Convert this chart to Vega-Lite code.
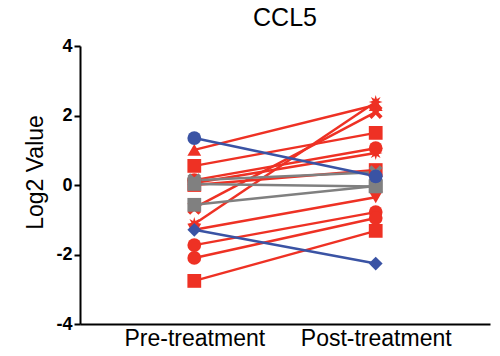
{
  "$schema": "https://vega.github.io/schema/vega-lite/v6.json",
  "width": 410,
  "height": 278,
  "autosize": {"type": "none"},
  "padding": {"left": 80, "top": 46, "right": 10, "bottom": 32},
  "background": "white",
  "title": {"text": "CCL5", "fontSize": 25, "fontWeight": "normal", "font": "Liberation Sans", "color": "black", "anchor": "middle", "offset": 6},
  "config": {"view": {"stroke": null}, "font": "Liberation Sans"},
  "data": {"values": [
    {"subject": "R1", "group": "red", "time": "Pre-treatment", "value": 1.01},
    {"subject": "R1", "group": "red", "time": "Post-treatment", "value": 2.3},
    {"subject": "R2", "group": "red", "time": "Pre-treatment", "value": 0.55},
    {"subject": "R2", "group": "red", "time": "Post-treatment", "value": 1.5},
    {"subject": "R3", "group": "red", "time": "Pre-treatment", "value": -0.66},
    {"subject": "R3", "group": "red", "time": "Post-treatment", "value": 2.1},
    {"subject": "R4", "group": "red", "time": "Pre-treatment", "value": -1.12},
    {"subject": "R4", "group": "red", "time": "Post-treatment", "value": 2.39},
    {"subject": "R5", "group": "red", "time": "Pre-treatment", "value": 0.14},
    {"subject": "R5", "group": "red", "time": "Post-treatment", "value": 1.06},
    {"subject": "R6", "group": "red", "time": "Pre-treatment", "value": 0.06},
    {"subject": "R6", "group": "red", "time": "Post-treatment", "value": 0.92},
    {"subject": "R7", "group": "red", "time": "Pre-treatment", "value": 0.0},
    {"subject": "R7", "group": "red", "time": "Post-treatment", "value": 0.43},
    {"subject": "R8", "group": "red", "time": "Pre-treatment", "value": -1.29},
    {"subject": "R8", "group": "red", "time": "Post-treatment", "value": -0.35},
    {"subject": "R9", "group": "red", "time": "Pre-treatment", "value": -1.73},
    {"subject": "R9", "group": "red", "time": "Post-treatment", "value": -0.78},
    {"subject": "R10", "group": "red", "time": "Pre-treatment", "value": -2.1},
    {"subject": "R10", "group": "red", "time": "Post-treatment", "value": -0.95},
    {"subject": "R11", "group": "red", "time": "Pre-treatment", "value": -2.76},
    {"subject": "R11", "group": "red", "time": "Post-treatment", "value": -1.32},
    {"subject": "G1", "group": "gray", "time": "Pre-treatment", "value": 0.14},
    {"subject": "G1", "group": "gray", "time": "Post-treatment", "value": 0.37},
    {"subject": "G2", "group": "gray", "time": "Pre-treatment", "value": 0.03},
    {"subject": "G2", "group": "gray", "time": "Post-treatment", "value": -0.04},
    {"subject": "G3", "group": "gray", "time": "Pre-treatment", "value": -0.57},
    {"subject": "G3", "group": "gray", "time": "Post-treatment", "value": -0.03},
    {"subject": "B1", "group": "blue", "time": "Pre-treatment", "value": 1.35},
    {"subject": "B1", "group": "blue", "time": "Post-treatment", "value": 0.25},
    {"subject": "B2", "group": "blue", "time": "Pre-treatment", "value": -1.29},
    {"subject": "B2", "group": "blue", "time": "Post-treatment", "value": -2.26}
  ]},
  "encoding": {
    "x": {
      "field": "time", "type": "nominal", "sort": ["Pre-treatment", "Post-treatment"],
      "scale": {"type": "point", "padding": 0.63, "align": 0.5},
      "axis": {"title": null, "ticks": false, "labelAngle": 0, "labelFontSize": 23, "labelColor": "black", "labelPadding": 3, "domainColor": "black", "domainWidth": 2}
    },
    "y": {
      "field": "value", "type": "quantitative",
      "scale": {"domain": [-4, 4], "nice": false, "zero": false},
      "axis": {"title": "Log2 Value", "titleFontSize": 23, "titleFontWeight": "normal", "titleColor": "black", "titlePadding": 8, "titleY": 126, "values": [-4, -2, 0, 2, 4], "labelExpr": "datum.value < 0 ? '-' + abs(datum.value) : '' + datum.value", "grid": false, "labelFontSize": 18, "labelFontWeight": "bold", "labelColor": "black", "domainColor": "black", "domainWidth": 2, "tickColor": "black", "tickWidth": 2, "tickSize": 6, "labelPadding": 2}
    },
    "color": {
      "field": "group", "type": "nominal", "legend": null,
      "scale": {"domain": ["red", "gray", "blue"], "range": ["#ee3124", "#808080", "#3a53a4"]}
    }
  },
  "layer": [
    {"mark": {"type": "line", "strokeWidth": 2.5}, "encoding": {"detail": {"field": "subject"}}},
    {
      "mark": {"type": "point", "filled": true, "opacity": 1, "size": 190},
      "encoding": {
        "shape": {
          "field": "subject", "type": "nominal", "legend": null,
          "scale": {
            "domain": ["R1", "R2", "R3", "R4", "R5", "R6", "R7", "R8", "R9", "R10", "R11", "G1", "G2", "G3", "B1", "B2"],
            "range": [
              "triangle-up", "square",
              "M-1,-0.6L-0.6,-1L0,-0.4L0.6,-1L1,-0.6L0.4,0L1,0.6L0.6,1L0,0.4L-0.6,1L-1,0.6L-0.4,0Z",
              "M0,-1L0.172,-0.416L0.707,-0.707L0.416,-0.172L1,0L0.416,0.172L0.707,0.707L0.172,0.416L0,1L-0.172,0.416L-0.707,0.707L-0.416,0.172L-1,0L-0.416,-0.172L-0.707,-0.707L-0.172,-0.416Z",
              "circle", "M0,-1L0.172,-0.416L0.707,-0.707L0.416,-0.172L1,0L0.416,0.172L0.707,0.707L0.172,0.416L0,1L-0.172,0.416L-0.707,0.707L-0.416,0.172L-1,0L-0.416,-0.172L-0.707,-0.707L-0.172,-0.416Z",
              "square", "triangle-down", "circle", "circle", "square",
              "M-1,-0.6L-0.6,-1L0,-0.4L0.6,-1L1,-0.6L0.4,0L1,0.6L0.6,1L0,0.4L-0.6,1L-1,0.6L-0.4,0Z",
              "square", "square", "circle", "diamond"
            ]
          }
        }
      }
    }
  ]
}
